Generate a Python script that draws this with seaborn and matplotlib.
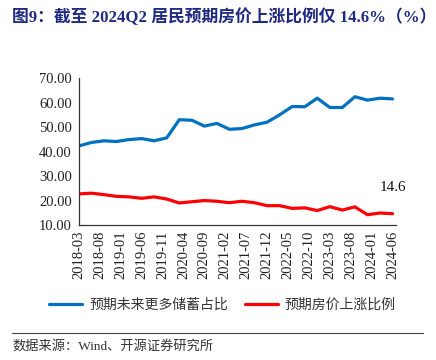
import numpy as np
import pandas as pd
import matplotlib
matplotlib.use("Agg")
import matplotlib.pyplot as plt
import seaborn as sns

# quarterly survey data, 2018Q1 .. 2024Q2
quarters = pd.period_range("2018-03", "2024-06", freq="3M")
savings = [42.3, 43.7, 44.4, 44.1, 44.9, 45.3, 44.4, 45.6, 53.0, 52.8, 50.4, 51.5,
           49.1, 49.4, 50.9, 52.0, 55.0, 58.4, 58.3, 61.8, 58.0, 58.0, 62.4, 61.0,
           61.8, 61.5]
house_up = [22.7, 23.0, 22.4, 21.7, 21.5, 20.9, 21.5, 20.6, 19.0, 19.5, 20.0, 19.7,
            19.1, 19.7, 19.1, 17.9, 17.9, 16.8, 17.0, 15.9, 17.5, 16.1, 17.4, 14.2,
            14.9, 14.6]
tick_labels = pd.period_range("2018-03", "2024-06", freq="5M").strftime("%Y-%m")

name_a = "预期未来更多储蓄占比"
name_b = "预期房价上涨比例"

start = pd.Period("2018-03", freq="M")
month_idx = [(pd.Period(str(q), freq="M") - start).n for q in quarters]
df = pd.DataFrame({"m": month_idx, name_a: savings, name_b: house_up})

sns.set_style("white")
plt.rcParams["font.family"] = ["Liberation Serif", "Noto Sans CJK SC", "DejaVu Sans"]
cjk = ["Noto Sans CJK SC", "DejaVu Sans"]

fig = plt.figure(figsize=(4.36, 3.6), dpi=100)
ax = fig.add_axes([0.181, 0.375, 0.727, 0.408])

sns.lineplot(data=df, x="m", y=name_a, ax=ax, color="#0070C0", lw=2.3, label=name_a, legend=False)
sns.lineplot(data=df, x="m", y=name_b, ax=ax, color="#FF0000", lw=2.3, label=name_b, legend=False)

ax.set_xlim(0, 75.8)
ax.set_ylim(10, 70)
ax.set_yticks(np.arange(10, 71, 10))
ax.set_yticklabels([f"{v:.2f}" for v in np.arange(10, 71, 10)], fontsize=10.5)
ax.set_xticks(np.arange(0, 76, 5))
ax.set_xticklabels(tick_labels, rotation=90, fontsize=10.5)
ax.set_xlabel("")
ax.set_ylabel("")
for s in ["top", "right"]:
    ax.spines[s].set_visible(False)
for s in ["left", "bottom"]:
    ax.spines[s].set_color("#333333")
    ax.spines[s].set_linewidth(0.9)
ax.tick_params(axis="y", direction="out", length=3, width=0.8, colors="#222222", pad=2)
ax.tick_params(axis="x", direction="in", length=3, width=0.8, colors="#222222", pad=4)

ax.annotate(f"{house_up[-1]:.1f}", xy=(df["m"].iloc[-1], house_up[-1]),
            xytext=(0, 14), textcoords="offset points", ha="center", va="bottom",
            fontsize=11, color="#111111")

fig.text(0.028, 0.952, "图9：截至 2024Q2 居民预期房价上涨比例仅 14.6%（%）",
         fontsize=12.1, fontweight="bold", color="#1F2A80", ha="left", va="center",
         family=["Liberation Serif", "Noto Sans CJK SC"])

handles, labels = ax.get_legend_handles_labels()
fig.legend(handles, labels, loc="center", bbox_to_anchor=(0.51, 0.153), ncol=2,
           frameon=False, prop={"family": cjk, "size": 10}, handlelength=2.4,
           columnspacing=1.2, handletextpad=0.5, labelcolor="#333333")

fig.add_artist(plt.Line2D([0.028, 0.970], [0.075, 0.075], color="#444444", lw=0.8))
fig.text(0.028, 0.037, "数据来源：Wind、开源证券研究所", fontsize=9.5, color="#333333",
         ha="left", va="center", family=["Liberation Serif", "Noto Sans CJK SC"])

fig.savefig("out.png", dpi=100)
